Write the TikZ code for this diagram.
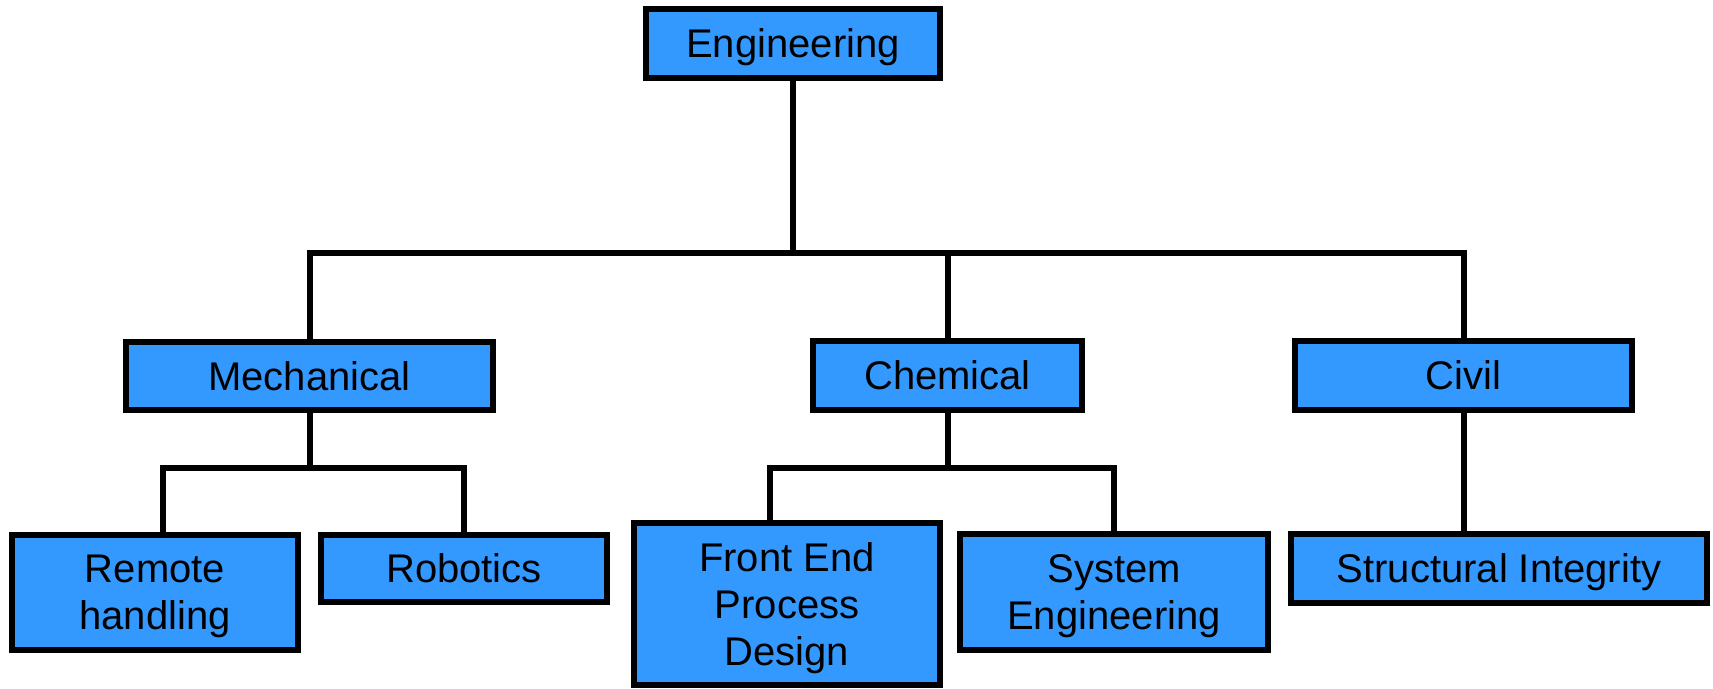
\documentclass[tikz,border=0pt]{standalone}
\usepackage{fontspec}
\setmainfont{Liberation Sans}
\definecolor{boxblue}{RGB}{51,153,255}

\begin{document}
\begin{tikzpicture}[x=0.5pt,y=-0.5pt,every node/.style={draw,line width=3pt,fill=boxblue,inner sep=0pt,align=center,text depth=0pt,font=\fontsize{20}{23.5}\selectfont},wire/.style={line width=3pt}]
\useasboundingbox (0,0) rectangle (1713,689);
\node[minimum width=147pt,minimum height=34.5pt] (eng) at (793,43.5) {Engineering};
\node[minimum width=183.5pt,minimum height=34pt] (mech) at (309.5,376) {Mechanical};
\node[minimum width=134.5pt,minimum height=34.5pt] (chem) at (947.5,375.5) {Chemical};
\node[minimum width=168.5pt,minimum height=34.5pt] (civil) at (1463.5,375.5) {Civil};
\node[minimum width=143pt,minimum height=57.5pt] (remote) at (155,592.5) {Remote\\handling};
\node[minimum width=143pt,minimum height=33.5pt] (robot) at (464,568.5) {Robotics};
\node[minimum width=153pt,minimum height=81pt] (front) at (787,604) {Front End\\Process\\Design};
\node[minimum width=154pt,minimum height=58pt] (sys) at (1114,592) {System\\Engineering};
\node[minimum width=208pt,minimum height=34.5pt] (si) at (1499,568.5) {Structural Integrity};

\coordinate (bus) at (0,253);
\coordinate (mbus) at (0,468);

\draw[wire] (eng.south) -- (eng.south |- bus);
\draw[wire] (mech.north) |- (civil.north |- bus) -- (civil.north);
\draw[wire] (chem.north) -- (chem.north |- bus);
\draw[wire] (mech.south) -- (mech.south |- mbus);
\draw[wire] ([xshift=4pt]remote.north) |- (robot.north |- mbus) -- (robot.north);
\draw[wire] (chem.south) -- (chem.south |- mbus);
\draw[wire] ([xshift=-8.5pt]front.north) |- (sys.north |- mbus) -- (sys.north);
\draw[wire] (civil.south) -- (civil.south |- si.north);
\end{tikzpicture}
\end{document}
